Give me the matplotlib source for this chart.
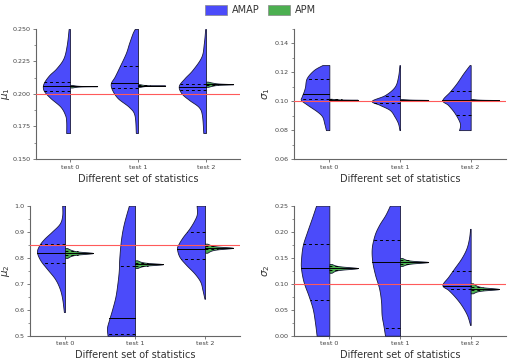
import numpy as np
import matplotlib
matplotlib.use("Agg")
import matplotlib.pyplot as plt
from matplotlib.patches import Patch
from matplotlib.ticker import AutoMinorLocator, FormatStrFormatter, MultipleLocator

categories = ["test 0", "test 1", "test 2"]
series_names = ["AMAP", "APM"]
ylabels = [r"$\mu_1$", r"$\sigma_1$", r"$\mu_2$", r"$\sigma_2$"]
true_values = [0.2, 0.1, 0.85, 0.1]
xlabel_text = "Different set of statistics"

# ---- AMAP (blue) density profiles: y values and relative half-widths ----
mu1_amap_y = [
    [0.170, 0.1787, 0.1838, 0.1902, 0.1967, 0.2018, 0.2056, 0.2095, 0.2146, 0.2198, 0.2275, 0.2377, 0.250],
    [0.170, 0.1838, 0.190, 0.1967, 0.2031, 0.2082, 0.2133, 0.221, 0.2313, 0.239, 0.2467, 0.250],
    [0.170, 0.1838, 0.190, 0.1954, 0.2005, 0.2062, 0.2121, 0.2185, 0.2287, 0.239, 0.250],
]
mu1_amap_w = [
    [0.14, 0.14, 0.18, 0.35, 0.71, 0.94, 1.0, 0.94, 0.76, 0.5, 0.24, 0.12, 0.05],
    [0.08, 0.13, 0.33, 0.74, 0.95, 1.0, 0.86, 0.68, 0.45, 0.33, 0.2, 0.12],
    [0.1, 0.15, 0.27, 0.62, 0.9, 1.0, 0.79, 0.5, 0.17, 0.08, 0.03],
]
mu1_amap_q = [[0.2025, 0.2062, 0.209], [0.2049, 0.2082, 0.2215], [0.2031, 0.2051, 0.2077]]

sig1_amap_y = [
    [0.080, 0.0847, 0.0893, 0.0927, 0.0974, 0.1008, 0.1031, 0.1066, 0.110, 0.116, 0.1216, 0.125],
    [0.080, 0.0847, 0.0893, 0.0939, 0.0974, 0.1003, 0.1043, 0.110, 0.117, 0.125],
    [0.080, 0.0847, 0.0916, 0.0974, 0.1008, 0.1066, 0.1124, 0.1193, 0.125],
]
sig1_amap_w = [
    [0.12, 0.18, 0.25, 0.42, 0.77, 1.0, 0.98, 0.91, 0.86, 0.8, 0.55, 0.25],
    [0.02, 0.07, 0.19, 0.36, 0.71, 1.0, 0.53, 0.19, 0.07, 0.02],
    [0.41, 0.38, 0.56, 0.8, 1.0, 0.74, 0.5, 0.26, 0.04],
]
sig1_amap_q = [[0.1013, 0.105, 0.1156], [0.099, 0.1005, 0.1035], [0.0905, 0.1008, 0.107]]

mu2_amap_y = [
    [0.591, 0.642, 0.681, 0.719, 0.758, 0.790, 0.822, 0.848, 0.873, 0.899, 0.931, 0.963, 1.0],
    [0.5, 0.53, 0.56, 0.60, 0.65, 0.70, 0.75, 0.80, 0.87, 0.93, 1.0],
    [0.642, 0.676, 0.708, 0.740, 0.772, 0.803, 0.835, 0.854, 0.880, 0.912, 0.944, 0.969, 1.0],
]
mu2_amap_w = [
    [0.04, 0.1, 0.19, 0.36, 0.65, 0.88, 1.0, 0.92, 0.74, 0.48, 0.19, 0.1, 0.1],
    [0.98, 1.0, 0.93, 0.82, 0.70, 0.63, 0.58, 0.56, 0.5, 0.4, 0.22],
    [0.02, 0.09, 0.17, 0.38, 0.67, 0.91, 1.0, 0.94, 0.79, 0.56, 0.38, 0.29, 0.3],
]
mu2_amap_q = [[0.781, 0.818, 0.853], [0.507, 0.567, 0.767], [0.795, 0.835, 0.899]]

sig2_amap_y = [
    [0.0, 0.0263, 0.052, 0.0777, 0.1033, 0.1289, 0.148, 0.1738, 0.1994, 0.2257, 0.25],
    [0.0, 0.0206, 0.0398, 0.0654, 0.0911, 0.1167, 0.1424, 0.168, 0.1936, 0.2129, 0.2321, 0.25],
    [0.0206, 0.0398, 0.059, 0.075, 0.0879, 0.0975, 0.1135, 0.1296, 0.1488, 0.168, 0.1873, 0.2055],
]
sig2_amap_w = [
    [0.45, 0.51, 0.59, 0.74, 0.91, 1.0, 1.0, 0.94, 0.79, 0.62, 0.47],
    [0.53, 0.59, 0.65, 0.67, 0.74, 0.88, 0.98, 1.0, 0.9, 0.74, 0.52, 0.36],
    [0.02, 0.13, 0.33, 0.56, 0.79, 1.0, 0.79, 0.58, 0.33, 0.15, 0.06, 0.02],
]
sig2_amap_q = [[0.068, 0.130, 0.1757], [0.0142, 0.1417, 0.1834], [0.089, 0.096, 0.124]]

# ---- APM (green) density profiles ----
mu1_apm_y = [
    [0.2050, 0.2055, 0.2058, 0.2060, 0.2062, 0.2065, 0.2070],
    [0.2055, 0.2060, 0.2063, 0.2065, 0.2067, 0.2070, 0.2075],
    [0.2055, 0.2063, 0.2070, 0.2075, 0.2081, 0.2088, 0.2095],
]
mu1_apm_q = [[0.2058, 0.2060, 0.2062], [0.2063, 0.2065, 0.2067], [0.2070, 0.2075, 0.2080]]

sig1_apm_y = [
    [0.1003, 0.1006, 0.1008, 0.1010, 0.1012, 0.1014, 0.1017],
    [0.1003, 0.1005, 0.1007, 0.1009, 0.1011, 0.1013, 0.1015],
    [0.1001, 0.1004, 0.1006, 0.1008, 0.1010, 0.1012, 0.1015],
]
sig1_apm_q = [[0.1008, 0.1010, 0.1012], [0.1007, 0.1009, 0.1011], [0.1006, 0.1008, 0.1010]]

mu2_apm_y = [
    [0.799, 0.807, 0.812, 0.818, 0.824, 0.830, 0.837],
    [0.760, 0.766, 0.770, 0.775, 0.780, 0.784, 0.790],
    [0.819, 0.827, 0.832, 0.838, 0.843, 0.848, 0.854],
]
mu2_apm_q = [[0.812, 0.818, 0.824], [0.770, 0.775, 0.780], [0.832, 0.838, 0.844]]

sig2_apm_y = [
    [0.121, 0.125, 0.127, 0.130, 0.133, 0.135, 0.138],
    [0.134, 0.137, 0.139, 0.1417, 0.144, 0.146, 0.1494],
    [0.0815, 0.085, 0.087, 0.0898, 0.093, 0.096, 0.1008],
]
sig2_apm_q = [[0.1265, 0.130, 0.1335], [0.138, 0.1417, 0.145], [0.087, 0.0898, 0.093]]

apm_w = [0.08, 0.22, 0.45, 1.0, 0.45, 0.22, 0.08]

ylims = [(0.15, 0.25), (0.06, 0.15), (0.5, 1.0), (0.0, 0.25)]
ymajor = [0.025, 0.02, 0.1, 0.05]
yfmt = ["%.3f", "%.2f", "%.1f", "%.2f"]

panels = [
    (mu1_amap_y, mu1_amap_w, mu1_amap_q, mu1_apm_y, mu1_apm_q),
    (sig1_amap_y, sig1_amap_w, sig1_amap_q, sig1_apm_y, sig1_apm_q),
    (mu2_amap_y, mu2_amap_w, mu2_amap_q, mu2_apm_y, mu2_apm_q),
    (sig2_amap_y, sig2_amap_w, sig2_amap_q, sig2_apm_y, sig2_apm_q),
]

BLUE = "#4B4BFA"
GREEN = "#4CAF50"
EDGE = "#1a1a3a"
HALF = 0.4

fig = plt.figure(figsize=(5.08, 3.64), dpi=100)
# axes rectangles in pixels (left, bottom-from-top, right, top-from-top)
px_rects = [(36, 159, 240, 29), (294, 159, 506, 29), (30, 335.7, 240, 205.7), (294, 335.7, 506, 205.7)]
W, H = 508.0, 364.0
rects = [[l / W, 1 - b / H, (r - l) / W, (b - t) / H] for (l, b, r, t) in px_rects]
label_right_px = [12, 272, 12, 272]


def smooth_outline(ys, ws, n=12):
    """Catmull-Rom curve through the read profile points (drawing only)."""
    P = np.column_stack([ys, ws])
    P = np.vstack([P[0], P, P[-1]])
    out = []
    t = np.linspace(0, 1, n, endpoint=False)[:, None]
    for k in range(1, len(P) - 2):
        p0, p1, p2, p3 = P[k - 1], P[k], P[k + 1], P[k + 2]
        seg = 0.5 * ((2 * p1) + (-p0 + p2) * t + (2 * p0 - 5 * p1 + 4 * p2 - p3) * t ** 2
                     + (-p0 + 3 * p1 - 3 * p2 + p3) * t ** 3)
        out.append(seg)
    out.append(P[-2][None, :])
    out = np.vstack(out)
    return out[:, 0], np.clip(out[:, 1], 0, None)


def draw_half(ax, pos, ys, ws, qs, color, side):
    ys = np.asarray(ys, float)
    ws = np.asarray(ws, float) * HALF
    sy, sw = smooth_outline(ys, ws)
    if side < 0:
        ax.fill_betweenx(sy, pos - sw, pos, facecolor=color, edgecolor=EDGE, linewidth=0.6, zorder=3)
    else:
        ax.fill_betweenx(sy, pos, pos + sw, facecolor=color, edgecolor=EDGE, linewidth=0.6, zorder=3)
    order = np.argsort(sy)
    for k, q in enumerate(qs):
        w = np.interp(q, sy[order], sw[order])
        ls = "-" if k == 1 else (0, (3, 3))
        ax.plot([pos, pos + side * w], [q, q], color="black", lw=0.7, ls=ls, zorder=4)


for i, (ay, aw, aq, gy, gq) in enumerate(panels):
    ax = fig.add_axes(rects[i])
    for j in range(len(categories)):
        draw_half(ax, j, ay[j], aw[j], aq[j], BLUE, -1)
        draw_half(ax, j, gy[j], apm_w, gq[j], GREEN, 1)
    ax.axhline(true_values[i], color="#FF5A5A", lw=0.8, zorder=5)
    ax.set_xlim(-0.5, 2.5)
    ax.set_ylim(*ylims[i])
    ax.set_xticks(range(len(categories)))
    ax.set_xticklabels(categories)
    ax.yaxis.set_major_locator(MultipleLocator(ymajor[i]))
    ax.yaxis.set_minor_locator(AutoMinorLocator(2))
    ax.yaxis.set_major_formatter(FormatStrFormatter(yfmt[i]))
    for s in ["top", "right"]:
        ax.spines[s].set_visible(False)
    for s in ["left", "bottom"]:
        ax.spines[s].set_color("#666666")
        ax.spines[s].set_linewidth(0.8)
    ax.tick_params(axis="both", which="major", labelsize=4.6, length=2.5, width=0.6,
                   color="#666666", labelcolor="#444444", pad=1.5)
    ax.tick_params(axis="y", which="minor", length=1.5, width=0.5, color="#666666")
    ax.set_xlabel(xlabel_text, fontsize=7, color="#333333", labelpad=3)
    ax.set_ylabel(ylabels[i], fontsize=7.5, color="#333333")
    l, b, r, t = px_rects[i]
    ax.yaxis.set_label_coords((label_right_px[i] - l) / (r - l), 0.5)

handles = [Patch(facecolor=BLUE, edgecolor="#888888", lw=0.5, label=series_names[0]),
           Patch(facecolor=GREEN, edgecolor="#888888", lw=0.5, label=series_names[1])]
fig.legend(handles=handles, loc="upper center", bbox_to_anchor=(0.513, 1.01), ncol=2,
           frameon=False, fontsize=7, handlelength=2.3, handleheight=1.2,
           columnspacing=0.8, handletextpad=0.5, labelcolor="#333333")

fig.savefig("out.png", dpi=100)
